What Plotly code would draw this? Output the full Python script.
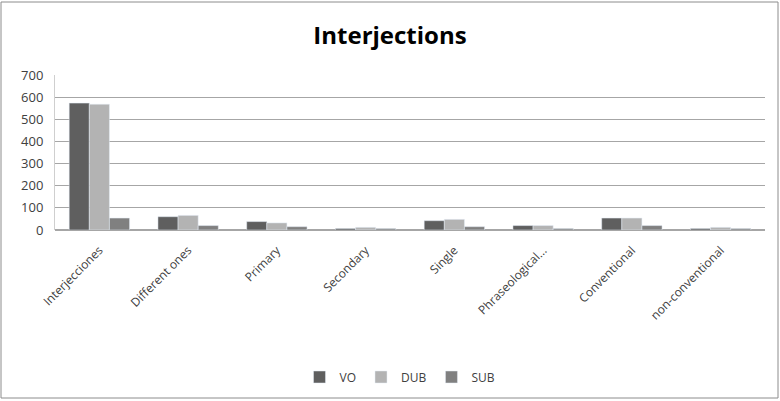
import plotly.graph_objects as go

categories = ["Interjecciones", "Different ones", "Primary", "Secondary", "Single",
              "Phraseological...", "Conventional", "non-conventional"]
vo = [573, 60, 38, 7, 42, 20, 54, 7]
dub = [568, 66, 32, 12, 48, 20, 54, 12]
sub = [54, 20, 15, 7, 15, 7, 20, 7]
y_ticks = [0, 100, 200, 300, 400, 500, 600, 700]

W, H = 780, 401
ml, mr, mt, mb = 55, 15, 75, 171
pw, ph = W - ml - mr, H - mt - mb

fig = go.Figure()
fig.add_trace(go.Bar(name="VO", x=categories, y=vo, marker_color="#5f5f5f"))
fig.add_trace(go.Bar(name="DUB", x=categories, y=dub, marker_color="#b3b3b3"))
fig.add_trace(go.Bar(name="SUB", x=categories, y=sub, marker_color="#808080"))

fig.update_layout(
    width=W, height=H,
    margin=dict(l=ml, r=mr, t=mt, b=mb, autoexpand=False),
    paper_bgcolor="white", plot_bgcolor="white",
    font=dict(family="Open Sans, Arial", color="#404040", size=13),
    title=dict(text="<b>Interjections</b>", x=0.5, xanchor="center", y=0.91, yanchor="middle",
               font=dict(family="Open Sans, Arial", size=24, color="black")),
    barmode="group", bargap=0.32, bargroupgap=0,
    showlegend=True,
    legend=dict(orientation="h", x=(400 - ml) / pw, xanchor="center", y=-(377 - mt - ph) / ph,
                yanchor="middle", font=dict(size=12, color="#404040"), traceorder="normal",
                itemwidth=30),
    xaxis=dict(tickangle=-45, showgrid=False, showline=False, ticks="", automargin=False,
               ticklabelstandoff=10, tickfont=dict(size=12)),
    yaxis=dict(range=[0, 700], tickvals=y_ticks, showgrid=True, gridcolor="#a6a6a6", gridwidth=1,
               showline=True, linecolor="#cfcfcf", zeroline=True, zerolinecolor="#a6a6a6",
               ticks="", automargin=False, ticklabelstandoff=8, tickfont=dict(size=13)),
    shapes=[dict(type="rect", xref="paper", yref="paper",
                 x0=(1 - ml) / pw, x1=(W - 2 - ml) / pw,
                 y0=-(H - 3 - mt - ph) / ph, y1=(mt - 2) / ph + 1,
                 line=dict(color="#8c8c8c", width=1))],
)

fig.write_html("out.html", config={"displayModeBar": False},
               post_script="document.body.style.margin='0';document.body.style.overflow='hidden';")
